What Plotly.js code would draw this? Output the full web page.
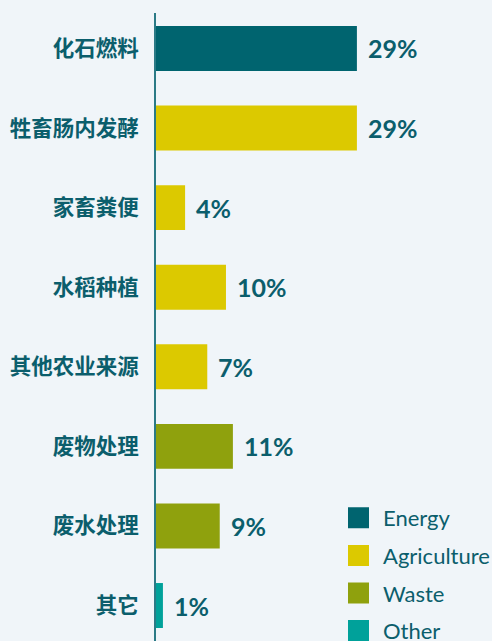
<!DOCTYPE html>
<html>
<head>
<meta charset="utf-8">
<script src="https://cdn.plot.ly/plotly-3.0.1.min.js"></script>
<style>html,body{margin:0;padding:0;background:#f0f5f9;}#chart{width:492px;height:641px;}</style>
</head>
<body>
<div id="chart"></div>
<script>
// ---- data ----
const categories = ['化石燃料','牲畜肠内发酵','家畜粪便','水稻种植','其他农业来源','废物处理','废水处理','其它'];
const values = [29, 29, 4.2, 10.1, 7.4, 11.1, 9.2, 1.0];
const valueLabels = ['29%','29%','4%','10%','7%','11%','9%','1%'];
const sectors = ['Energy','Agriculture','Agriculture','Agriculture','Agriculture','Waste','Waste','Other'];
const sectorNames = ['Energy','Agriculture','Waste','Other'];
const sectorColors = {Energy:'#00646f', Agriculture:'#dcc900', Waste:'#8fa10d', Other:'#00a19a'};

const textColor = '#0b5e6c';

const traces = [{
  type:'bar', orientation:'h',
  x: values, y: categories,
  marker:{color: sectors.map(s => sectorColors[s])},
  width: 0.565,
  showlegend:false, hoverinfo:'none'
}];
sectorNames.forEach((s,i) => {
  traces.push({
    type:'scatter', mode:'markers', x:[null], y:[null], name:s,
    legendgroup:'g'+i,
    marker:{symbol:'square', size:16, color:sectorColors[s], line:{width:5, color:sectorColors[s]}},
    hoverinfo:'none'
  });
});

const annotations = categories.map((c,i) => ({
  x: values[i], y: c, xref:'x', yref:'y',
  text: valueLabels[i], showarrow:false,
  xanchor:'left', yanchor:'middle', xshift:9,
  font:{family:'Lato, sans-serif', size:25, color:textColor, weight:'bold'}
}));

const layout = {
  width:492, height:641,
  margin:{l:156, r:0, t:13, b:0, autoexpand:false},
  paper_bgcolor:'#f0f5f9', plot_bgcolor:'#f0f5f9',
  showlegend:true,
  xaxis:{range:[0,48.5], visible:false, fixedrange:true},
  yaxis:{
    type:'category', range:[7.446,-0.446],
    showline:true, linecolor:'#2b7a86', linewidth:2,
    showgrid:false, zeroline:false,
    ticks:'outside', ticklen:11, tickcolor:'rgba(0,0,0,0)',
    tickfont:{family:'Noto Sans CJK SC, sans-serif', size:21.5, color:textColor, weight:'bold'}
  },
  legend:{
    xref:'container', yref:'container',
    x:334/492, xanchor:'left', y:1-497/641, yanchor:'top',
    traceorder:'grouped', tracegroupgap:6, itemwidth:39,
    bgcolor:'rgba(0,0,0,0)',
    font:{family:'Lato, sans-serif', size:22, color:textColor}
  },
  annotations: annotations,
  bargap:0.43
};

Plotly.newPlot('chart', traces, layout, {displayModeBar:false, staticPlot:true});
</script>
</body>
</html>
